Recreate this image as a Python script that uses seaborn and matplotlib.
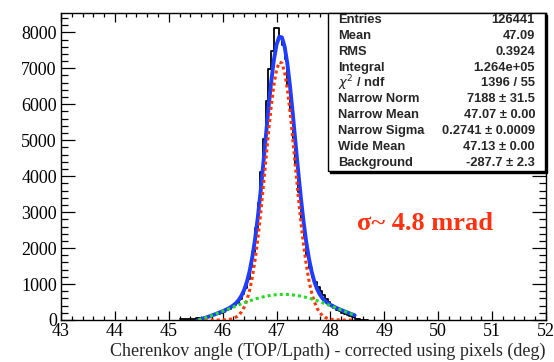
import numpy as np
import pandas as pd
import matplotlib
matplotlib.use("Agg")
import matplotlib.pyplot as plt
from matplotlib.ticker import MultipleLocator
from matplotlib.patches import Rectangle
import seaborn as sns

# ---------------- data ----------------
hist_low = 45.20          # lower edge of first filled bin (deg)
bin_width = 0.05          # deg
hist_counts = [15, 20, 25, 30, 35, 40, 45, 55, 65, 80, 95, 110, 130, 155, 180, 205, 235, 270,
               310, 355, 410, 480,
               580, 720, 900, 1150, 1480, 1900, 2550, 3250,
               4110, 5020, 6080, 6990, 7480, 8120, 8120,
               7880, 7650, 7250, 6500, 5800, 5050, 4300, 3550, 2850,
               2310, 1800, 1440, 1200, 1050, 920, 800, 690, 590, 500, 430, 340, 290, 240,
               200, 160, 130, 100, 70, 40, 20, 10, 5, 2]

fit_x_start = 45.55
fit_step = 0.05
total_fit = [0, 23, 47, 73, 99, 126, 154, 183, 213, 244, 278, 315, 357, 409, 474, 560, 678, 841,
             1063, 1359, 1747, 2235, 2826, 3514, 4279, 5084, 5883, 6616, 7227, 7661, 7878, 7857,
             7600, 7133, 6499, 5753, 4954, 4160, 3413, 2746, 2179, 1716, 1352, 1075, 869, 719,
             609, 529, 469, 421, 380, 343, 310, 279, 248, 217, 188, 159, 131]
narrow_fit = [0, 0, 0, 0, 0, 0, 0, 1, 2, 3, 7, 14, 26, 47, 82, 139, 228, 362, 557, 827, 1189,
              1653, 2222, 2890, 3636, 4425, 5209, 5930, 6531, 6957, 7169, 7145, 6888, 6423, 5794,
              5055, 4266, 3483, 2750, 2100, 1551, 1108, 766, 512, 331, 207, 125, 73, 42, 23, 12,
              6, 3, 1, 0, 0, 0, 0, 0]
wide_fit = [0, 23, 47, 73, 99, 126, 154, 182, 211, 241, 271, 301, 331, 362, 392, 421, 450, 479,
            506, 532, 558, 582, 604, 624, 643, 659, 674, 686, 696, 704, 709, 712, 712, 710, 705,
            698, 688, 677, 663, 646, 628, 608, 586, 563, 538, 512, 484, 456, 427, 398, 368, 337,
            307, 277, 247, 217, 188, 159, 131]

stat_labels = ["Entries", "Mean", "RMS", "Integral", r"$\chi^{2}$ / ndf", "Narrow Norm",
               "Narrow Mean", "Narrow Sigma", "Wide Mean", "Background"]
stat_values = ["126441", "47.09", "0.3924", "1.264e+05", "1396 / 55", "7188 \u00b1 31.5",
               "47.07 \u00b1 0.00", "0.2741 \u00b1 0.0009", "47.13 \u00b1 0.00", "-287.7 \u00b1 2.3"]

x_label = "Cherenkov angle (TOP/Lpath) - corrected using pixels (deg)"
annotation = "\u03c3~ 4.8 mrad"

# ---------------- style ----------------
sns.set_theme(style="ticks")
plt.rcParams['font.family'] = ['Liberation Serif', 'DejaVu Serif']
plt.rcParams['axes.edgecolor'] = 'black'
plt.rcParams['xtick.color'] = 'black'
plt.rcParams['ytick.color'] = 'black'

W, H = 554, 362
fig = plt.figure(figsize=(W / 100, H / 100), dpi=100)
fig.patch.set_facecolor('white')
ax = fig.add_axes([61 / W, 1 - 320 / H, 485 / W, (320 - 12.7) / H])
ax.set_facecolor('white')

n_bins = len(hist_counts)
hist_high = hist_low + bin_width * n_bins
centers = hist_low + bin_width * (np.arange(n_bins) + 0.5)
hdf = pd.DataFrame({"angle": centers, "counts": hist_counts})
sns.histplot(data=hdf, x="angle", weights="counts", bins=n_bins,
             binrange=(hist_low, hist_high), element="step",
             fill=False, color="black", linewidth=1.3, ax=ax, zorder=2)

fit_x = fit_x_start + fit_step * np.arange(len(total_fit))
sns.lineplot(x=fit_x, y=total_fit, color="#1f3dff", linewidth=2.8, ax=ax, zorder=3)
sns.lineplot(x=fit_x, y=narrow_fit, color="#ff3300", linewidth=2.2, ax=ax, zorder=4,
             linestyle=(0, (1, 1)), dash_capstyle="butt")
sns.lineplot(x=fit_x, y=wide_fit, color="#22dd22", linewidth=2.2, ax=ax, zorder=5,
             linestyle=(0, (1, 1)), dash_capstyle="butt")

ax.set_xlim(43, 52)
ax.set_ylim(0, 8546)
ax.xaxis.set_major_locator(MultipleLocator(1))
ax.xaxis.set_minor_locator(MultipleLocator(0.2))
ax.yaxis.set_major_locator(MultipleLocator(1000))
ax.yaxis.set_minor_locator(MultipleLocator(200))
ax.tick_params(which='both', direction='in', top=True, right=True, width=0.9)
ax.tick_params(axis='x', which='major', length=6.5, labelsize=13, pad=2)
ax.tick_params(axis='x', which='minor', length=3.2)
ax.tick_params(axis='y', which='major', length=10, labelsize=13, pad=3)
ax.tick_params(axis='y', which='minor', length=5)
for s in ax.spines.values():
    s.set_linewidth(1.0)
    s.set_color('black')
ax.set_ylabel("")
ax.set_xlabel(x_label, loc='right', fontsize=13, labelpad=2)

# ---------------- stat box ----------------
bx0, bx1, by0, by1 = 328, 545, 12.7, 171
fig.patches.append(Rectangle(((bx0 + 2) / W, 1 - (by1 + 2) / H), (bx1 - bx0) / W, (by1 - by0) / H,
                             transform=fig.transFigure, facecolor='black', edgecolor='black',
                             zorder=9))
fig.patches.append(Rectangle((bx0 / W, 1 - by1 / H), (bx1 - bx0) / W, (by1 - by0) / H,
                             transform=fig.transFigure, facecolor='white', edgecolor='black',
                             linewidth=1.0, zorder=10))
for i, (lab, val) in enumerate(zip(stat_labels, stat_values)):
    yc = 1 - (20 + 15.85 * i) / H
    fig.text(338 / W, yc, lab, ha='left', va='center', fontsize=9.3, fontweight='bold',
             family=['Liberation Sans', 'DejaVu Sans'], zorder=11)
    fig.text(535 / W, yc, val, ha='right', va='center', fontsize=9.3, fontweight='bold',
             family=['Liberation Sans', 'DejaVu Sans'], zorder=11)

fig.text(425 / W, 1 - 223 / H, annotation, ha='center', va='center', fontsize=19,
         fontweight='bold', color='#ff3010', family=['Liberation Serif', 'DejaVu Serif'])

fig.savefig("out.png", dpi=100)
